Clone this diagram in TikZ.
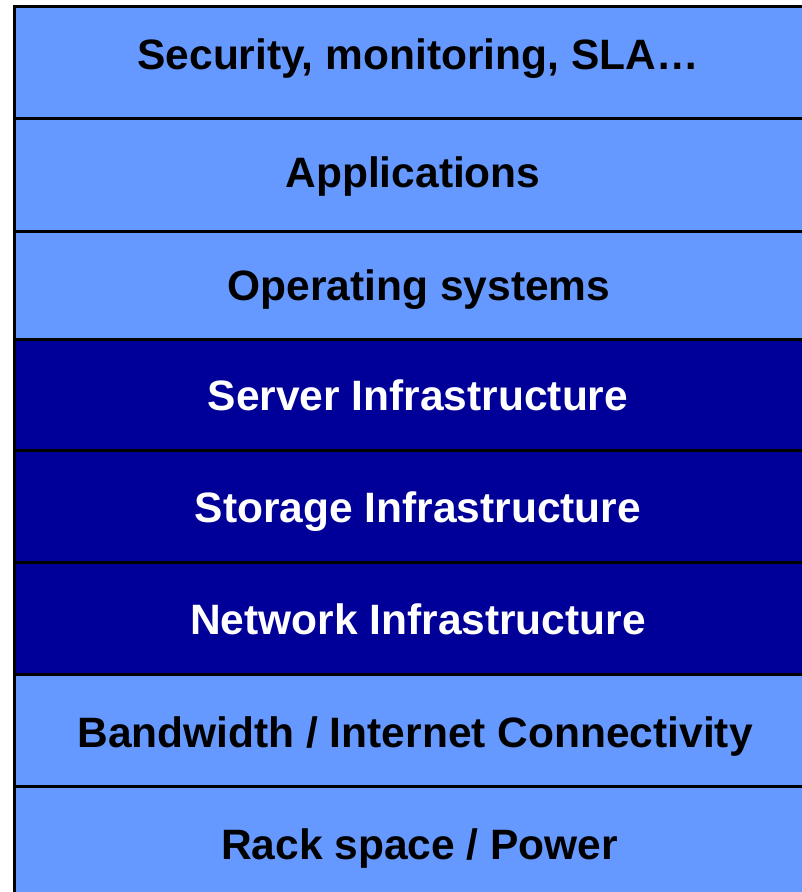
\documentclass[tikz,border=0pt]{standalone}
\usepackage{fontspec}
\setmainfont{Liberation Sans}
\definecolor{layerlight}{HTML}{6699FF}
\definecolor{layerdark}{HTML}{000099}
\begin{document}
\begin{tikzpicture}[x=1pt,y=-1pt,
  layerbox/.style={draw=black, line width=3pt},
  lighttext/.style={font=\fontsize{42.5}{42.5}\selectfont\bfseries, text=black, anchor=base, inner sep=0pt},
  darktext/.style={font=\fontsize{42.5}{42.5}\selectfont\bfseries, text=white, anchor=base, inner sep=0pt}]
\useasboundingbox (0,0) rectangle (802,892);
\clip (0,0) rectangle (802,892);
\fill[white] (0,0) rectangle (802,892);
% layer bands, top to bottom
\filldraw[layerbox, fill=layerlight] (14,6) rectangle (830,118);
\filldraw[layerbox, fill=layerlight] (14,118) rectangle (830,231);
\filldraw[layerbox, fill=layerlight] (14,231) rectangle (830,339);
\filldraw[layerbox, fill=layerdark] (14,339) rectangle (830,450);
\filldraw[layerbox, fill=layerdark] (14,450) rectangle (830,562);
\filldraw[layerbox, fill=layerdark] (14,562) rectangle (830,674);
\filldraw[layerbox, fill=layerlight] (14,674) rectangle (830,786);
\filldraw[layerbox, fill=layerlight] (14,786) rectangle (830,900);
% labels
\node[lighttext] (sec) at (418,69) {Security, monitoring, SLA…};
\node[lighttext] (app) at (413,187.5) {Applications};
\node[lighttext] (os)  at (419,300.5) {Operating systems};
\node[darktext]  (srv) at (418,410.5) {Server Infrastructure};
\node[darktext]  (sto) at (418,522.5) {Storage Infrastructure};
\node[darktext]  (net) at (418,634.5) {Network Infrastructure};
\node[lighttext] (bw)  at (415,747) {Bandwidth / Internet Connectivity};
\node[lighttext] (rack) at (419.5,859.5) {Rack space / Power};
\end{tikzpicture}
\end{document}
